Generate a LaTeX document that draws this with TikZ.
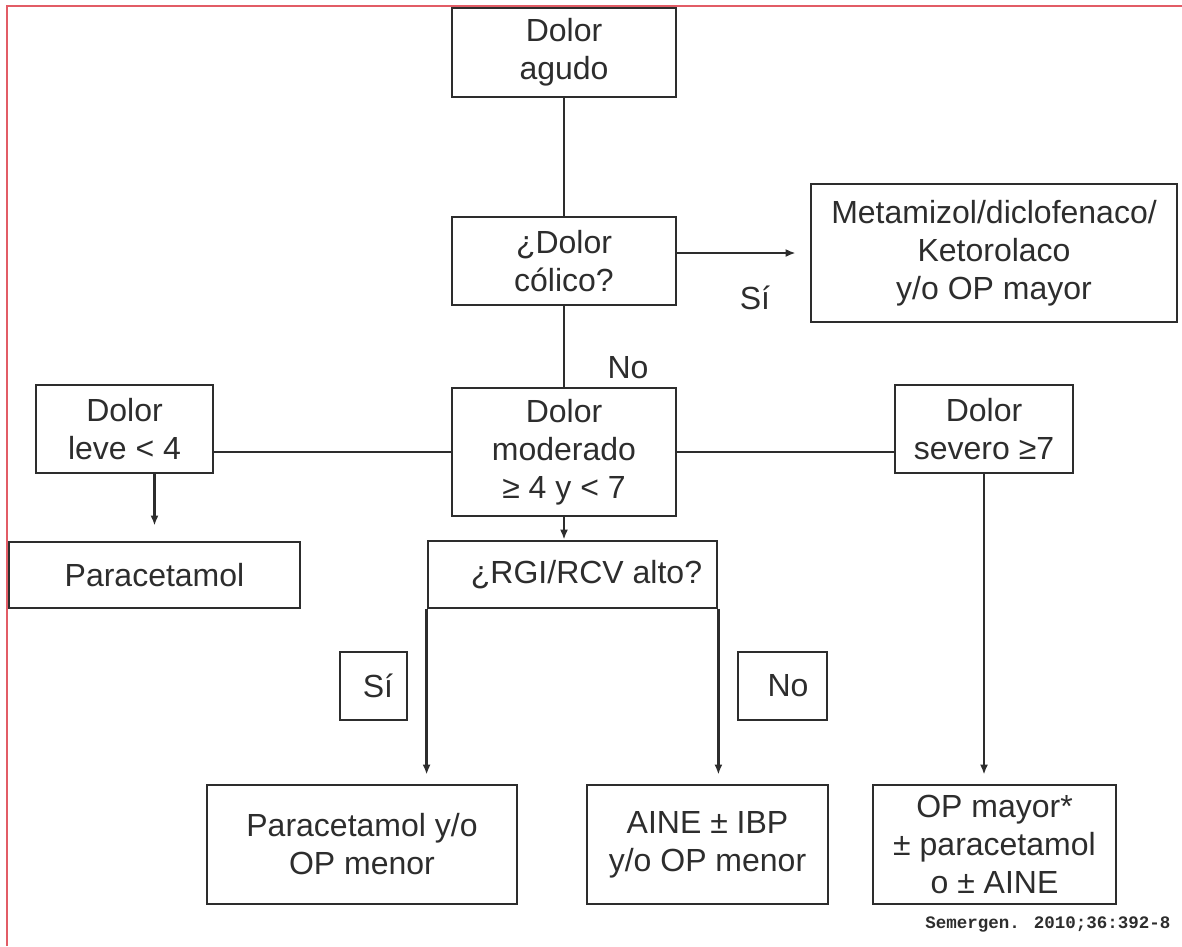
\documentclass[tikz,border=0pt]{standalone}
\usepackage{fontspec}
\setmainfont{Liberation Sans}
\newfontfamily\citafont{Liberation Mono}
\usetikzlibrary{arrows.meta}
\definecolor{marco}{RGB}{226,92,102}
\definecolor{trazo}{RGB}{45,45,45}

\begin{document}
\begin{tikzpicture}
  [x=1pt,y=-1pt,
   every node/.style={font=\fontsize{32}{38}\selectfont,
                      text=trazo},
   caja/.style={rectangle,
                draw=trazo,
                line width=2.8pt,
                align=center,
                inner sep=2pt},
   linea/.style={draw=trazo,line width=2.6pt},
   flecha/.style={linea,-{Latex[length=10pt,width=8pt]}}]
  \useasboundingbox (0,0) rectangle (1182,946);
  \draw[marco,line width=2.2pt] (7,946) -- (7,6) -- (1182,6);

  % primera columna
  \node[caja,minimum width=224pt,minimum height=89pt] (agudo) at (564,52.5) {Dolor\\agudo};
  \node[caja,minimum width=224pt,minimum height=88pt] (colico) at (564,261) {¿Dolor\\cólico?};
  \node[caja,minimum width=366pt,minimum height=138pt] (metamizol) at (994,253)
     {Metamizol/diclofenaco/\\Ketorolaco\\y/o OP mayor};
  \node[caja,minimum width=224pt,minimum height=128pt] (moderado) at (564,452)
     {Dolor\\moderado\\≥ 4 y < 7};
  \node[caja,minimum width=177pt,minimum height=88pt] (leve) at (124.5,429) {Dolor\\leve < 4};
  \node[caja,minimum width=178pt,minimum height=88pt] (severo) at (984,429) {Dolor\\severo ≥7};
  \node[caja,minimum width=291pt,minimum height=66pt] (paracetamol) at (154.5,575) {Paracetamol};
  \node[caja,minimum width=289pt,minimum height=67pt] (rgi) at (572.5,574.5)
     {\hspace*{28pt}¿RGI/RCV alto?};
  \node[caja,minimum width=67pt,minimum height=68pt] (si) at (373.5,686) {\hspace*{9pt}Sí};
  \node[caja,minimum width=89pt,minimum height=68pt] (no) at (782.5,686) {\hspace*{11pt}No};
  \node[caja,minimum width=310pt,minimum height=119pt] (parop) at (362,844.5)
     {Paracetamol y/o\\OP menor};
  \node[caja,minimum width=241pt,minimum height=119pt] (aine) at (707.5,844.5)
     {AINE ± IBP\\y/o OP menor};
  \node[caja,minimum width=243pt,minimum height=119pt] (opmayor) at (994.5,844.5)
     {OP mayor*\\± paracetamol\\o ± AINE};

  % etiquetas sueltas
  \node (sicolico) at (755,298) {Sí};
  \node (nocolico) at (628,368) {No};
  \node[anchor=east,font=\citafont\bfseries\fontsize{17.5}{20}\selectfont] (cita) at (1174,924)
     {Semergen. 2010;36:392-8};

  % conectores
  \draw[linea] (agudo.south) -- (colico.north);
  \draw[flecha] (colico.east |- metamizol.west) -- ([xshift=-14pt]metamizol.west);
  \draw[linea] (colico.south) -- (moderado.north);
  \draw[linea] (leve.east |- moderado.west) -- (moderado.west);
  \draw[linea] (moderado.east) -- (severo.west |- moderado.east);
  \draw[flecha,shorten >=15pt] (leve.south -| paracetamol.north) -- (paracetamol.north);
  \draw[flecha] (moderado.south) -- (moderado.south |- rgi.north);
  \draw[flecha,shorten >=9pt] (rgi.south west) -- (rgi.south west |- parop.north);
  \draw[flecha,shorten >=9pt] (rgi.south east) -- (rgi.south east |- aine.north);
  \draw[flecha,shorten >=9pt] (severo.south) -- (severo.south |- opmayor.north);
\end{tikzpicture}
\end{document}
